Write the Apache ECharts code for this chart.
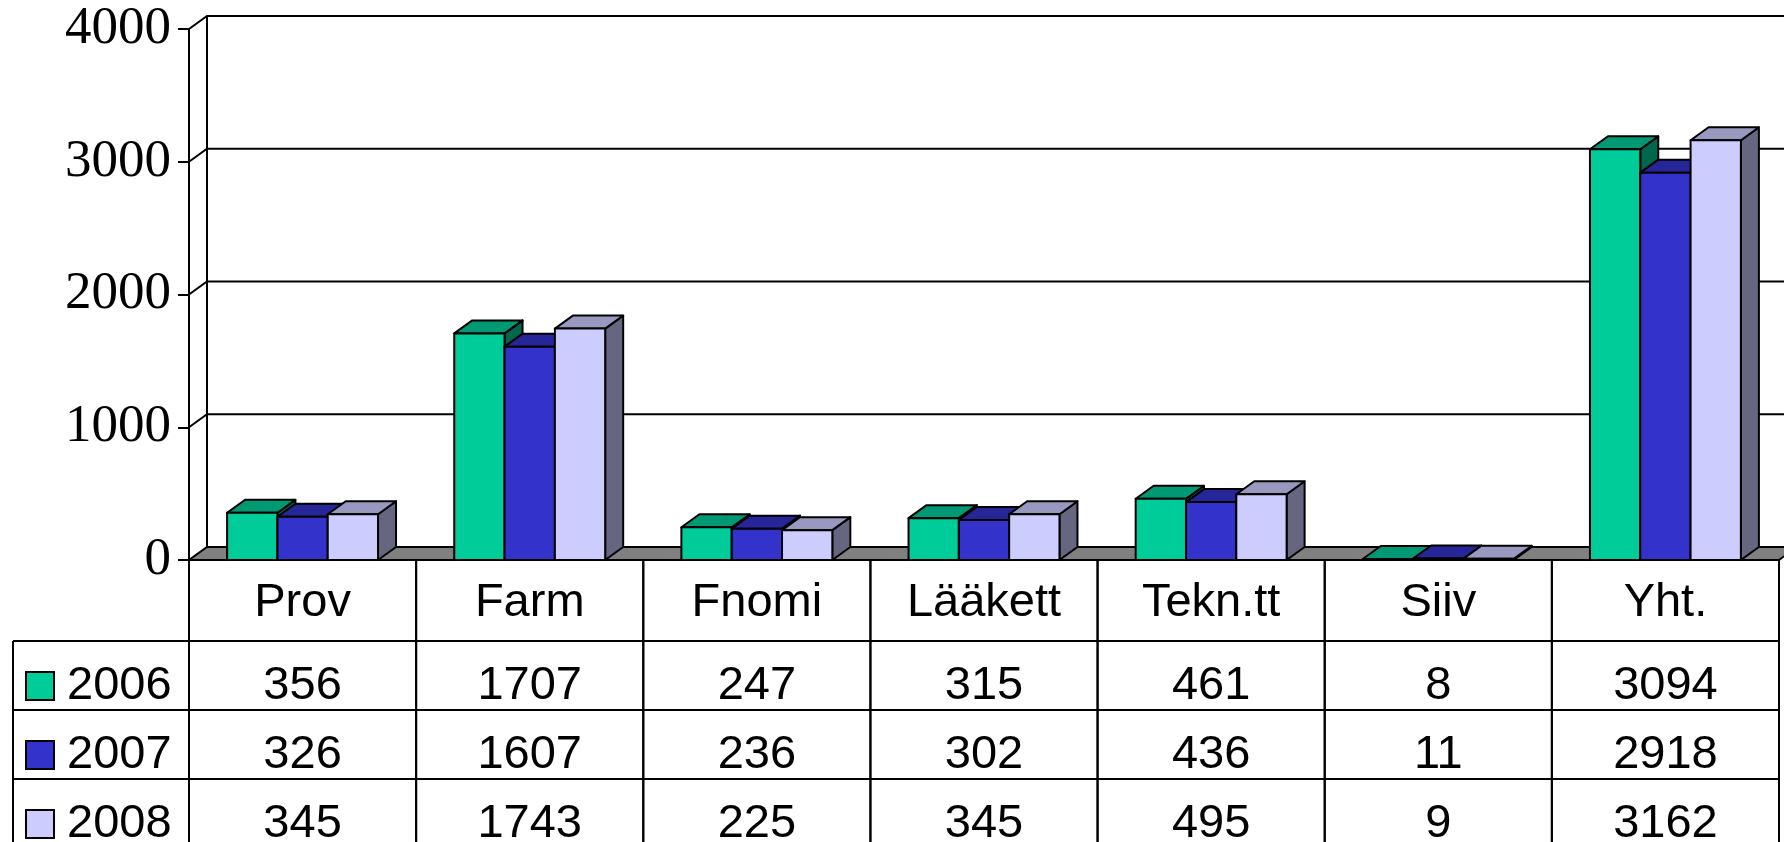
<!DOCTYPE html>
<html>
<head>
<meta charset="utf-8">
<script src="https://cdn.jsdelivr.net/npm/echarts@6/dist/echarts.min.js"></script>
<style>
html, body { margin: 0; padding: 0; background: #fff; }
#chart { width: 1784px; height: 842px; }
</style>
</head>
<body>
<div id="chart"></div>
<script>
// data
const categories = ['Prov', 'Farm', 'Fnomi', 'Lääkett', 'Tekn.tt', 'Siiv', 'Yht.'];
const years = ['2006', '2007', '2008'];
const values2006 = [356, 1707, 247, 315, 461, 8, 3094];
const values2007 = [326, 1607, 236, 302, 436, 11, 2918];
const values2008 = [345, 1743, 225, 345, 495, 9, 3162];
const yTicks = [0, 1000, 2000, 3000, 4000];

const seriesValues = [values2006, values2007, values2008];
const yMax = yTicks[yTicks.length - 1];

// styles
const palette = [
  { front: '#00cc99', top: '#009973', side: '#00664d' },
  { front: '#3333cc', top: '#262699', side: '#1a1a66' },
  { front: '#ccccff', top: '#9999bf', side: '#666680' }
];
const DX = 18, DY = -13;     // depth offset of the 3D look
const LINE = 2;
const HEADER_H = 81, ROW_H = 69, ROW_TEXT = 45, HEADER_TEXT = 43;
const LEGEND_LEFT = 13, SWATCH_X = 26, SWATCH = 28, YEAR_X = 67;
const tableFont = '47px "Liberation Sans", Arial, sans-serif';

const line = (x1, y1, x2, y2) => ({
  type: 'line',
  shape: { x1, y1, x2, y2 },
  style: { stroke: '#000', lineWidth: LINE }
});
const label = (text, x, y, align) => ({
  type: 'text',
  style: { text, x, y, align: align || 'center', verticalAlign: 'middle', font: tableFont, fill: '#000' }
});

// back wall, grid lines and floor
const renderWall = (params, api) => {
  const cs = params.coordSys;
  const v = api.value(1);
  const y = api.coord([0, v])[1];
  const x0 = cs.x, x1 = cs.x + cs.width;
  const children = [];
  if (v === 0) {
    children.push({
      type: 'polygon',
      shape: { points: [[x0, y], [x1, y], [x1 + DX, y + DY], [x0 + DX, y + DY]] },
      style: { fill: '#808080', stroke: '#000', lineWidth: LINE }
    });
  } else {
    children.push({
      type: 'polyline',
      shape: { points: [[x0, y], [x0 + DX, y + DY], [x1 + DX, y + DY]] },
      style: { fill: null, stroke: '#000', lineWidth: LINE }
    });
  }
  if (v === yMax) {
    const yb = cs.y + cs.height;
    children.push(line(x0 + DX, y + DY, x0 + DX, yb + DY));
  }
  return { type: 'group', children };
};

// 3D bars
const makeBarRender = (k) => (params, api) => {
  const i = api.value(0);
  const v = api.value(1);
  const base = api.coord([i, 0]);
  const top = api.coord([i, v]);
  const band = api.size([1, 0])[0];
  const w = band * 0.2215;
  const l = base[0] - 1.5 * w + k * w;
  const r = l + w;
  const t = top[1], b = base[1];
  const c = palette[k];
  const edge = { stroke: '#000', lineWidth: LINE, lineJoin: 'round' };
  return {
    type: 'group',
    children: [
      { type: 'polygon', shape: { points: [[r, t], [r + DX, t + DY], [r + DX, b + DY], [r, b]] }, style: Object.assign({ fill: c.side }, edge) },
      { type: 'polygon', shape: { points: [[l, t], [r, t], [r + DX, t + DY], [l + DX, t + DY]] }, style: Object.assign({ fill: c.top }, edge) },
      { type: 'rect', shape: { x: l, y: t, width: w, height: Math.max(b - t, 0) }, style: Object.assign({ fill: c.front }, edge) }
    ]
  };
};

// data table under the chart
const renderTable = (params, api) => {
  const i = api.value(0);
  const cs = params.coordSys;
  const band = api.size([1, 0])[0];
  const cx = api.coord([i, 0])[0];
  const l = cx - band / 2, r = cx + band / 2;
  const top = cs.y + cs.height;
  const bottom = top + 400;
  const children = [line(l, top, l, bottom), line(r, top, r, bottom)];
  children.push(label(categories[i], cx, top + HEADER_TEXT));
  seriesValues.forEach((vals, k) => {
    const rowTop = top + HEADER_H + k * ROW_H;
    children.push(line(i === 0 ? LEGEND_LEFT : l, rowTop, r, rowTop));
    children.push(label(String(vals[i]), cx, rowTop + ROW_TEXT));
  });
  if (i === 0) {
    children.push(line(LEGEND_LEFT, top + HEADER_H, LEGEND_LEFT, bottom));
    years.forEach((yr, k) => {
      const rowTop = top + HEADER_H + k * ROW_H;
      children.push({
        type: 'rect',
        shape: { x: SWATCH_X, y: rowTop + 31, width: SWATCH, height: SWATCH },
        style: { fill: palette[k].front, stroke: '#000', lineWidth: LINE }
      });
      children.push(label(yr, YEAR_X, rowTop + ROW_TEXT, 'left'));
    });
  }
  return { type: 'group', children };
};

const chart = echarts.init(document.getElementById('chart'));

const option = {
  animation: false,
  grid: { left: 189, right: 5, top: 29, bottom: 282, outerBoundsMode: 'none' },
  xAxis: {
    type: 'category',
    data: categories,
    axisLine: { show: false },
    axisTick: { show: false },
    axisLabel: { show: false },
    splitLine: { show: false }
  },
  yAxis: {
    type: 'value',
    min: 0,
    max: yMax,
    interval: 1000,
    axisLine: { show: true, lineStyle: { color: '#000', width: LINE } },
    axisTick: { show: true, length: 11, lineStyle: { color: '#000', width: LINE } },
    axisLabel: {
      color: '#000',
      fontFamily: '"Liberation Serif", "Times New Roman", serif',
      fontSize: 53,
      margin: 18,
      formatter: (v) => String(v)
    },
    splitLine: { show: false }
  },
  series: [
    {
      type: 'custom',
      z: 1,
      clip: false,
      renderItem: renderWall,
      encode: { x: 0, y: 1 },
      data: yTicks.map(v => [0, v])
    },
    ...seriesValues.map((vals, k) => ({
      type: 'custom',
      name: years[k],
      z: 2,
      clip: false,
      renderItem: makeBarRender(k),
      encode: { x: 0, y: 1 },
      data: vals.map((v, i) => [i, v])
    })),
    {
      type: 'custom',
      z: 3,
      clip: false,
      renderItem: renderTable,
      encode: { x: 0, y: 1 },
      data: categories.map((c, i) => [i, 0])
    }
  ]
};

chart.setOption(option);
window.addEventListener('resize', () => chart.resize());
</script>
</body>
</html>
